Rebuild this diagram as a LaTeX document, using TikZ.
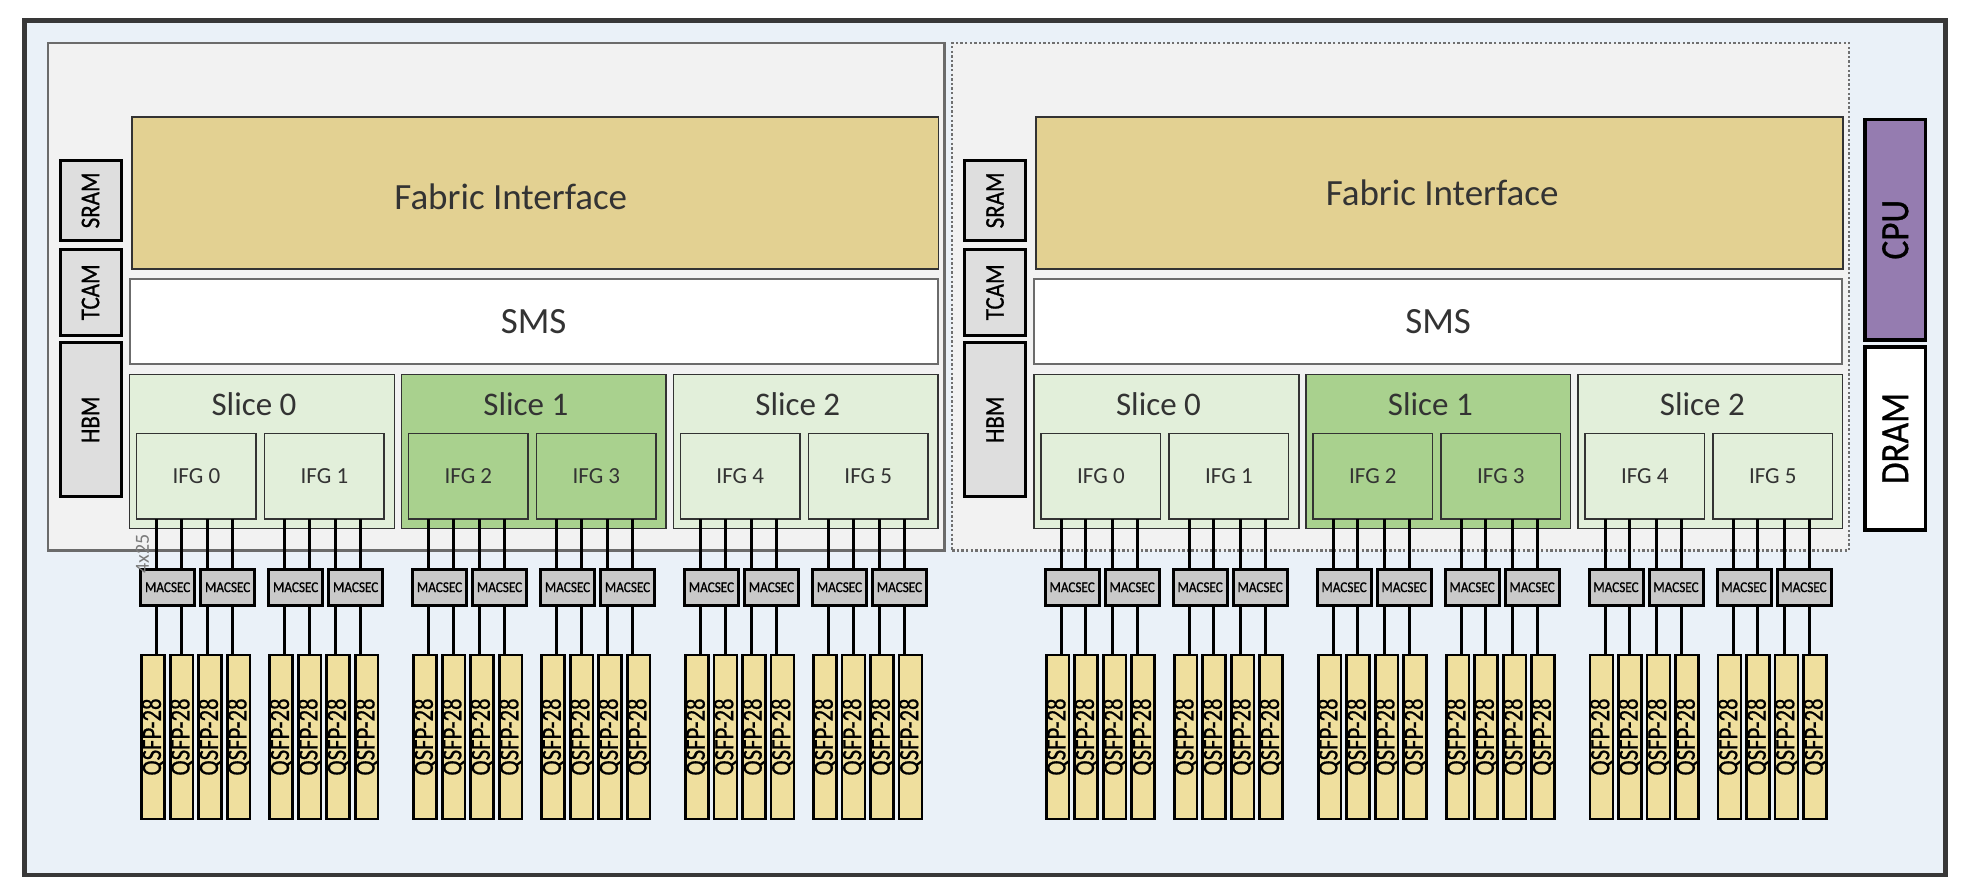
\documentclass[tikz,border=0pt]{standalone}
\usepackage{fontspec}
\usepackage{graphicx}
\setmainfont{Carlito}
\newfontfamily\labelfont[FakeBold=0.8]{Carlito}

\definecolor{frameclr}{HTML}{383838}
\definecolor{boardbg}{HTML}{EAF1F8}
\definecolor{diebg}{HTML}{F2F2F2}
\definecolor{diegray}{HTML}{6B6B6B}
\definecolor{dotgray}{HTML}{707070}
\definecolor{fabclr}{HTML}{E3D192}
\definecolor{lightgrn}{HTML}{E2EFDA}
\definecolor{darkgrn}{HTML}{A9D18E}
\definecolor{memclr}{HTML}{DEDEDE}
\definecolor{macclr}{HTML}{C9C9C9}
\definecolor{qsfpclr}{HTML}{EFDF9E}
\definecolor{cpuclr}{HTML}{957CB0}
\definecolor{txtclr}{HTML}{333333}
\definecolor{rategray}{HTML}{7A7A7A}

\newcommand{\vlabel}[2]{\rotatebox{90}{\scalebox{#1}[1]{#2}}}

\tikzset{
  corner/.style={anchor=north west, inner sep=0pt, outer sep=0pt},
  boardbox/.style={corner, draw=frameclr, line width=4.5pt, fill=boardbg},
  diesolid/.style={corner, draw=diegray, line width=2.3pt, fill=diebg},
  diedots/.style={corner, draw=dotgray, line width=2.4pt, dash pattern=on 2.4pt off 2.2pt, fill=diebg},
  membox/.style={corner, draw=black, line width=3pt, fill=memclr, minimum width=61pt, font=\labelfont\fontsize{27}{30}\selectfont},
  fabbox/.style={corner, draw=txtclr, line width=1.8pt, fill=fabclr, minimum width=806.8pt, minimum height=152.6pt},
  smsbox/.style={corner, draw=diegray, line width=2pt, fill=white, minimum width=807.8pt, minimum height=85pt, text=txtclr, font=\fontsize{37}{44}\selectfont},
  slicebox/.style={corner, draw=txtclr, line width=1.5pt, minimum width=264.6pt, minimum height=153.6pt},
  ifgbox/.style={corner, draw=txtclr, line width=1.5pt, minimum width=119.5pt, minimum height=85.3pt, text=txtclr, font=\fontsize{23}{26}\selectfont},
  macbox/.style={anchor=north, inner sep=0pt, outer sep=0pt, draw=black, line width=3pt, fill=macclr, minimum width=54pt, minimum height=35.5pt, font=\labelfont\fontsize{15}{16}\selectfont},
  qsfpbox/.style={anchor=north, inner sep=0pt, outer sep=0pt, draw=black, line width=2.7pt, fill=qsfpclr, minimum width=22.5pt, minimum height=164pt, font=\labelfont\fontsize{28}{30}\selectfont},
  hostbox/.style={corner, draw=black, line width=3.2pt, minimum width=60.5pt, font=\labelfont\fontsize{40}{44}\selectfont},
  lane/.style={draw=black, line width=3pt},
  bigtxt/.style={text=txtclr, font=\fontsize{37}{44}\selectfont, anchor=base, inner sep=0pt},
  slicetxt/.style={text=txtclr, font=\fontsize{33}{40}\selectfont, anchor=base, inner sep=0pt},
  ratetxt/.style={text=rategray, font=\fontsize{20}{22}\selectfont, inner sep=0pt}
}

\begin{document}
\begin{tikzpicture}[x=1pt, y=-1pt]
  \useasboundingbox (0,0) rectangle (1972,896);
  \node[boardbox, minimum width=1921pt, minimum height=854.5pt] (board) at (24.5,20.5) {};

  % two dies, the right one drawn dotted
  \foreach \d/\dx/\dstyle/\fx/\fy in {0/0/diesolid/-24.3/-17, 1/904.5/diedots/2.5/-12} {
    \node[\dstyle, minimum width=896.8pt, minimum height=507.7pt] (die\d) at (47.7+\dx,42.8) {};
    \node[membox, minimum height=79.3pt] (sram\d) at (60+\dx,160.7) {\vlabel{0.85}{SRAM}};
    \node[membox, minimum height=86pt] (tcam\d) at (60+\dx,249.3) {\vlabel{0.85}{TCAM}};
    \node[membox, minimum height=154pt] (hbm\d) at (60+\dx,342.7) {\vlabel{0.85}{HBM}};
    \node[fabbox] (fab\d) at (131.7+\dx,116.7) {};
    \node[bigtxt] (fabtxt\d) at ([xshift=\fx pt, yshift=\fy pt]fab\d.center) {Fabric Interface};
    \node[smsbox] (sms\d) at (129.7+\dx,279.3) {SMS};
    \foreach \k/\sfill in {0/lightgrn, 1/darkgrn, 2/lightgrn} {
      \node[slicebox, fill=\sfill] (sl\d\k) at (129.7+271.9*\k+\dx,374.7) {};
      \node[slicetxt] (sltxt\d\k) at ([xshift=-8pt, yshift=-40.8pt]sl\d\k.north) {Slice \k};
      \foreach \h in {0,1} {
        \pgfmathsetmacro\ix{129.7+271.9*\k+\dx+7+128*\h}
        \pgfmathtruncatemacro\n{2*\k+\h}
        \node[ifgbox, fill=\sfill] (ifg\d\n) at (\ix,433.7) {IFG \n};
        \node[macbox] (mac\d\n0) at (\ix+31,569.5) {\scalebox{0.88}[1]{MACSEC}};
        \node[macbox] (mac\d\n1) at (\ix+91,569.5) {\scalebox{0.88}[1]{MACSEC}};
        \foreach \j/\s in {0/3.5, 1/-0.5, 2/-2.5, 3/-6} {
          \pgfmathtruncatemacro\m{\j/2}
          \node[qsfpbox] (q\d\n\j) at (\ix+16.5+28.5*\j,655) {\vlabel{0.81}{QSFP-28}};
          \coordinate (ln\d\n\j) at ([xshift=\s pt]q\d\n\j.north);
          \draw[lane] (ln\d\n\j) -- (ln\d\n\j |- mac\d\n\m.south);
          \draw[lane] (ln\d\n\j |- mac\d\n\m.north) -- (ln\d\n\j |- ifg\d\n.south);
        }
      }
    }
  }

  \node[ratetxt] (rate) at (142.5,554) {\rotatebox{90}{4x25}};

  \node[hostbox, fill=cpuclr, minimum height=220.5pt] (cpu) at (1865,119.5) {\vlabel{0.88}{CPU}};
  \node[hostbox, fill=white, minimum height=183pt] (dram) at (1865,347) {\vlabel{0.88}{DRAM}};
\end{tikzpicture}
\end{document}
